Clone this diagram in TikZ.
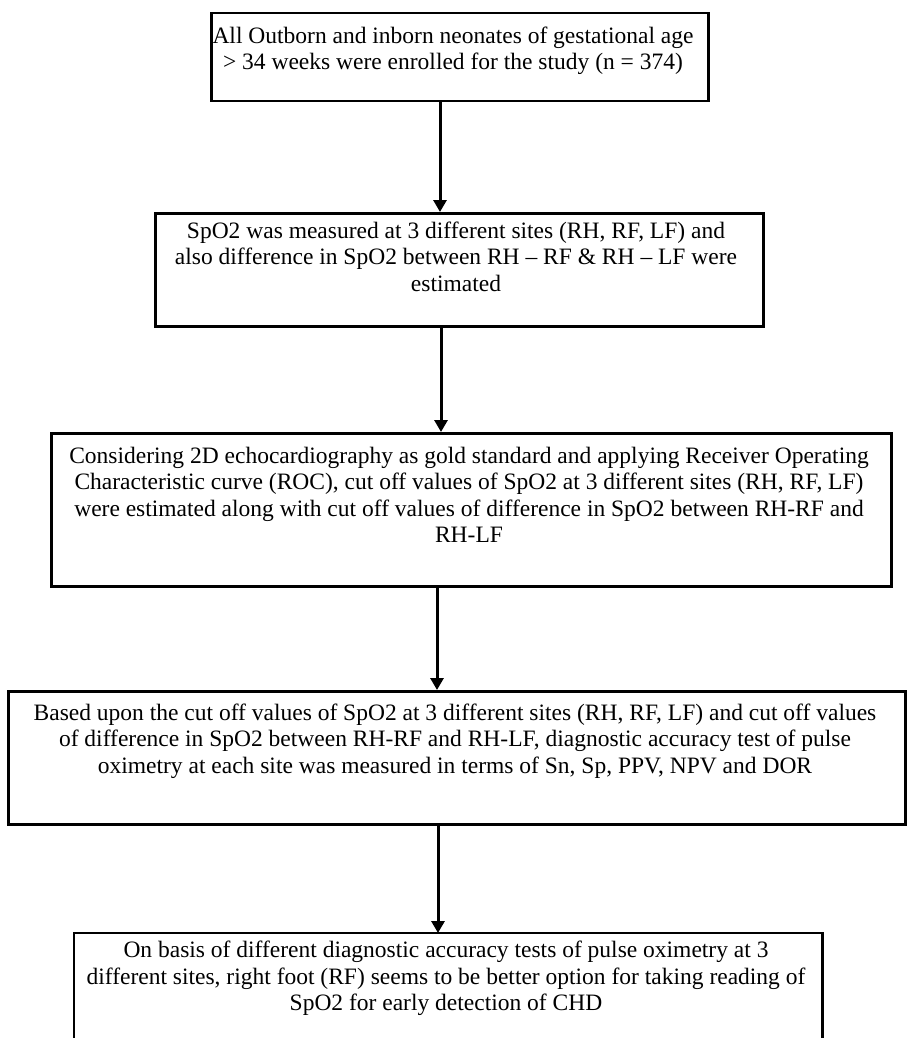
\documentclass[tikz,border=0pt]{standalone}
\usepackage{fontspec}
\setmainfont{Liberation Serif}
\usetikzlibrary{arrows.meta}
\begin{document}
\begin{tikzpicture}[x=1pt,y=-1pt,
  box/.style={draw, line width=2.5pt, rectangle, inner sep=0pt, anchor=north west},
  openbox/.style={rectangle, inner sep=0pt, anchor=north west},
  txt/.style={align=center, anchor=north, inner sep=0pt, font=\fontsize{23.5}{26.5}\selectfont},
  arr/.style={line width=3pt, -{Triangle[width=13pt,length=12pt]}}]
\useasboundingbox (0,0) rectangle (906,1038);
% boxes
\node[box, minimum width=497pt, minimum height=88pt] (b1) at (210,12) {};
\node[box, minimum width=608pt, minimum height=113pt] (b2) at (154,212) {};
\node[box, minimum width=840pt, minimum height=153pt] (b3) at (50,432) {};
\node[box, minimum width=897pt, minimum height=133pt] (b4) at (7,690) {};
\node[openbox, minimum width=748pt, minimum height=105pt] (b5) at (74,933) {};
\draw[line width=2.5pt] (b5.south west) -- (b5.north west) -- (b5.north east) -- (b5.south east);
% texts
\node[txt] (t1) at (453,26.5) {All Outborn and inborn neonates of gestational age\\> 34 weeks were enrolled for the study (n = 374)};
\node[txt] (t2) at (456,221.5) {SpO2 was measured at 3 different sites (RH, RF, LF) and\\also difference in SpO2 between RH – RF \& RH – LF were\\estimated};
\node[txt] (t3) at (469,446.5) {Considering 2D echocardiography as gold standard and applying Receiver Operating\\Characteristic curve (ROC), cut off values of SpO2 at 3 different sites (RH, RF, LF)\\were estimated along with cut off values of difference in SpO2 between RH-RF and\\RH-LF};
\node[txt] (t4) at (455,703.5) {Based upon the cut off values of SpO2 at 3 different sites (RH, RF, LF) and cut off values\\of difference in SpO2 between RH-RF and RH-LF, diagnostic accuracy test of pulse\\oximetry at each site was measured in terms of Sn, Sp, PPV, NPV and DOR};
\node[txt] (t5) at (446,941) {On basis of different diagnostic accuracy tests of pulse oximetry at 3\\different sites, right foot (RF) seems to be better option for taking reading of\\SpO2 for early detection of CHD};
% arrows
\coordinate (x1) at (440,0);
\coordinate (x2) at (441,0);
\coordinate (x3) at (437,0);
\coordinate (x4) at (438,0);
\draw[arr] (b1.south -| x1) -- (b2.north -| x1);
\draw[arr] (b2.south -| x2) -- (b3.north -| x2);
\draw[arr] (b3.south -| x3) -- (b4.north -| x3);
\draw[arr] (b4.south -| x4) -- (b5.north -| x4);
\end{tikzpicture}
\end{document}
